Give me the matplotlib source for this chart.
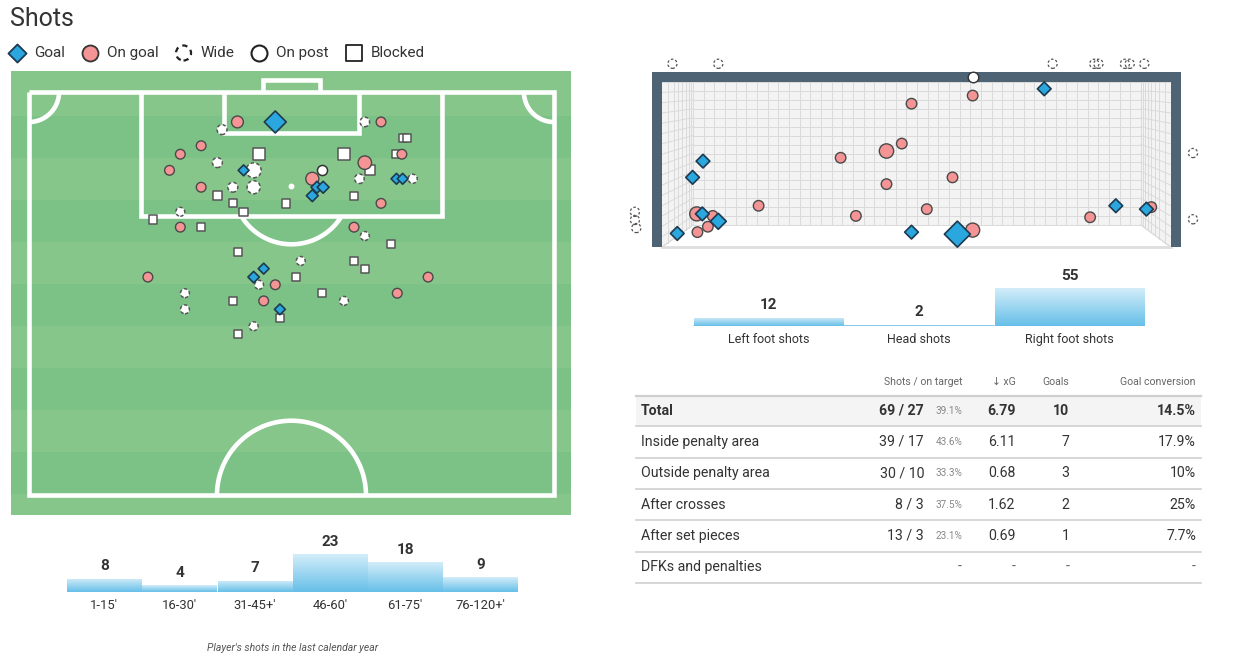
import numpy as np
import matplotlib
matplotlib.use("Agg")
import matplotlib.pyplot as plt
from matplotlib.patches import Rectangle, Polygon
from matplotlib.colors import LinearSegmentedColormap

plt.rcParams["font.family"] = ["Roboto", "DejaVu Sans"]

# ====================== DATA ======================
# Shot map: x = metres across the pitch (0 = left touchline), y = metres from the goal line
goal_x = [31.9, 27.8, 37.3, 38.1, 36.7, 47.6, 48.4, 30.4, 29.1, 32.5]
goal_y = [3.9, 10.2, 12.4, 12.4, 13.5, 11.3, 11.3, 23.0, 24.1, 28.3]
goal_xg = [0.64, 0.03, 0.07, 0.07, 0.07, 0.03, 0.03, 0.03, 0.05, 0.03]

ongoal_x = [27.0, 45.6, 22.3, 19.6, 48.3, 18.2, 43.5, 36.7, 22.3, 45.6, 19.6, 42.1, 15.4, 51.7, 31.9, 47.7, 30.4]
ongoal_y = [3.9, 3.9, 7.0, 8.1, 8.1, 10.2, 9.2, 11.3, 12.4, 14.5, 17.6, 17.6, 24.1, 24.1, 25.1, 26.2, 27.2]
ongoal_xg = [0.2, 0.08, 0.08, 0.08, 0.08, 0.08, 0.31, 0.28, 0.08, 0.08, 0.08, 0.08, 0.08, 0.08, 0.08, 0.08, 0.08]

post_x = [38.0]
post_y = [10.2]
post_xg = [0.1]

wide_x = [25.0, 43.5, 24.4, 29.1, 26.4, 29.1, 42.8, 49.7, 19.6, 43.5, 35.2, 29.8, 20.2, 20.2, 40.8, 29.1]
wide_y = [4.9, 3.9, 9.2, 10.2, 12.4, 12.4, 11.3, 11.3, 15.6, 18.75, 22.0, 25.1, 26.2, 28.3, 27.2, 30.5]
wide_xg = [0.09, 0.07, 0.09, 0.42, 0.09, 0.28, 0.07, 0.05, 0.04, 0.04, 0.04, 0.04, 0.04, 0.04, 0.04, 0.04]

blocked_x = [29.8, 40.8, 44.2, 48.4, 49.0, 47.5, 24.4, 26.4, 27.8, 33.3, 42.1, 16.1, 22.3, 46.9, 27.1, 42.1,
             43.5, 34.6, 38.0, 26.4, 32.5, 27.1]
blocked_y = [8.1, 8.1, 10.2, 6.0, 6.0, 8.1, 13.5, 14.5, 15.6, 14.5, 13.5, 16.6, 17.6, 19.8, 20.8, 22.0,
             23.0, 24.1, 26.2, 27.2, 29.4, 31.5]
blocked_xg = [0.27, 0.27, 0.17, 0.05, 0.05, 0.05, 0.08, 0.06, 0.06, 0.08, 0.05, 0.05, 0.05, 0.04, 0.05, 0.05,
              0.05, 0.05, 0.05, 0.05, 0.05, 0.05]

# Goal-mouth view: x = metres from left post, y = metres above the ground
gm_goal_x = [5.50, 0.59, 0.44, 0.58, 0.81, 0.22, 3.59, 4.25, 6.53, 6.97]
gm_goal_y = [2.34, 1.27, 1.03, 0.49, 0.38, 0.20, 0.22, 0.19, 0.61, 0.56]
gm_goal_xg = [0.07, 0.07, 0.07, 0.07, 0.17, 0.07, 0.07, 0.79, 0.07, 0.07]

gm_ongoal_x = [4.47, 3.59, 3.45, 3.23, 2.57, 4.18, 3.23, 1.39, 2.79, 3.81, 6.16, 0.50, 0.73, 0.66, 0.51, 4.47, 7.04]
gm_ongoal_y = [2.24, 2.12, 1.53, 1.42, 1.32, 1.03, 0.93, 0.61, 0.46, 0.56, 0.44, 0.49, 0.46, 0.30, 0.22, 0.25, 0.59]
gm_ongoal_xg = [0.05, 0.05, 0.05, 0.27, 0.05, 0.05, 0.05, 0.05, 0.05, 0.05, 0.05, 0.25, 0.05, 0.05, 0.05, 0.25, 0.05]

gm_post_x = [4.47]
gm_post_y = [2.51]

gm_wide_x = [0.15, 0.81, 5.62, 6.22, 6.28, 6.66, 6.73, 6.94, 7.64, 7.64, -0.39, -0.39, -0.37]
gm_wide_y = [2.71, 2.71, 2.71, 2.71, 2.71, 2.71, 2.71, 2.71, 1.39, 0.41, 0.52, 0.40, 0.28]

# Shots by body part
body_labels = ["Left foot shots", "Head shots", "Right foot shots"]
body_values = [12, 2, 55]

# Shots by match period
period_labels = ["1-15'", "16-30'", "31-45+'", "46-60'", "61-75'", "76-120+'"]
period_values = [8, 4, 7, 23, 18, 9]

# Table
row_labels = ["Total", "Inside penalty area", "Outside penalty area", "After crosses",
              "After set pieces", "DFKs and penalties"]
row_shots = [69, 39, 30, 8, 13, None]
row_on_target = [27, 17, 10, 3, 3, None]
row_xg = [6.79, 6.11, 0.68, 1.62, 0.69, None]
row_goals = [10, 7, 3, 2, 1, None]
col_headers = ["Shots / on target", "\u2193 xG", "Goals", "Goal conversion"]

# ====================== STYLE ======================
W, H = 1250, 670
TXT = "#333333"
BLUE = "#2aa7df"
BLUE_EDGE = "#1d3a4f"
PINK = "#f49494"
PINK_EDGE = "#4a4a4a"
LIGHT_GREEN = "#86c68a"
DARK_GREEN = "#7cc287"
FRAME = "#4e6373"

fig = plt.figure(figsize=(W / 100, H / 100), dpi=100)


def px_axes(x0, y0, x1, y1):
    return fig.add_axes([x0 / W, 1 - y1 / H, (x1 - x0) / W, (y1 - y0) / H])


def pt2(area_px, shape):
    f = 4 / np.pi if shape == "o" else 1.0
    return np.asarray(area_px, dtype=float) * (72 / 100) ** 2 * f


def fmt_pct(v):
    s = f"{v:.1f}"
    if s.endswith(".0"):
        s = s[:-2]
    return s + "%"


# ---------- overlay (texts, table) ----------
ov = fig.add_axes([0, 0, 1, 1])
ov.set_xlim(0, W)
ov.set_ylim(H, 0)
ov.axis("off")

ov.text(10, 19, "Shots", fontsize=18, color=TXT, va="center", ha="left")

handles = [
    ov.scatter([], [], marker="D", s=85, facecolor=BLUE, edgecolor=BLUE_EDGE, linewidth=1.3),
    ov.scatter([], [], marker="o", s=132, facecolor=PINK, edgecolor="#333", linewidth=1.3),
    ov.scatter([], [], marker="o", s=117, facecolor="white", edgecolor="#222", linewidth=1.6,
               linestyle=(0, (2.4, 2.0))),
    ov.scatter([], [], marker="o", s=132, facecolor="white", edgecolor="#222", linewidth=1.5),
    ov.scatter([], [], marker="s", s=117, facecolor="white", edgecolor="#222", linewidth=1.3),
]
fig.legend(handles, ["Goal", "On goal", "Wide", "On post", "Blocked"], loc="center left",
           bbox_to_anchor=(6.3 / W, 1 - 53 / H), ncol=5, frameon=False, fontsize=11,
           handlelength=1.4, handletextpad=0.4, columnspacing=0.95, borderpad=0,
           borderaxespad=0, scatterpoints=1, labelcolor=TXT)
for h in handles:
    h.remove()

# ---------- table ----------
tx0, tx1 = 636, 1201
label_x = 641
shots_r, pct_r, xg_r, goals_r, conv_r = 924, 962, 1015.5, 1069.5, 1196
head_y = 382
ov.text(pct_r, head_y, col_headers[0], ha="right", va="center", fontsize=7.6, color="#666")
ov.text(xg_r, head_y, col_headers[1], ha="right", va="center", fontsize=7.6, color="#666")
ov.text(goals_r, head_y, col_headers[2], ha="right", va="center", fontsize=7.6, color="#666")
ov.text(conv_r, head_y, col_headers[3], ha="right", va="center", fontsize=7.6, color="#666")

line_y = [395.7, 426, 457.5, 489, 520.3, 551.5, 582.5]
ov.add_patch(Rectangle((tx0, line_y[0]), tx1 - tx0, line_y[1] - line_y[0], facecolor="#f4f4f4",
                       edgecolor="none", zorder=0))
for i, ly in enumerate(line_y):
    ov.plot([tx0, tx1], [ly, ly], color="#cfcfcf", lw=1.6 if i == 0 else 1.2, zorder=1)

FS = 10.2
for i, lab in enumerate(row_labels):
    cy = (line_y[i] + line_y[i + 1]) / 2
    wt = "bold" if i == 0 else "normal"
    ov.text(label_x, cy, lab, ha="left", va="center", fontsize=FS, color=TXT, fontweight=wt)
    if row_shots[i] is None:
        for xr in (pct_r, xg_r, goals_r, conv_r):
            ov.text(xr, cy, "-", ha="right", va="center", fontsize=FS, color="#666")
        continue
    ov.text(shots_r, cy, f"{row_shots[i]} / {row_on_target[i]}", ha="right", va="center",
            fontsize=FS, color=TXT, fontweight=wt)
    ov.text(pct_r, cy, fmt_pct(100 * row_on_target[i] / row_shots[i]), ha="right", va="center",
            fontsize=7.2, color="#888")
    ov.text(xg_r, cy, f"{row_xg[i]:.2f}", ha="right", va="center", fontsize=FS, color=TXT,
            fontweight=wt)
    ov.text(goals_r, cy, f"{row_goals[i]}", ha="right", va="center", fontsize=FS, color=TXT,
            fontweight=wt)
    ov.text(conv_r, cy, fmt_pct(100 * row_goals[i] / row_shots[i]), ha="right", va="center",
            fontsize=FS, color=TXT, fontweight=wt)

ov.text(293, 648, "Player's shots in the last calendar year", ha="center", va="center",
        fontsize=7.5, style="italic", color="#555")

# ---------- pitch ----------
SX, SY = 7.72, 7.68  # reference px per metre
pa = px_axes(11, 71, 571, 515)
pa.set_xlim(-18 / SX, 542 / SX)
pa.set_ylim(423 / SY, -21 / SY)
pa.axis("off")

ylo, yhi = 423 / SY, -21 / SY
b0, bstep = 24 / SY, 42 / SY
pa.axhspan(yhi, b0, color=LIGHT_GREEN, lw=0, zorder=0)
k = 0
while b0 + k * bstep < ylo:
    pa.axhspan(b0 + k * bstep, min(b0 + (k + 1) * bstep, ylo),
               color=DARK_GREEN if k % 2 == 0 else LIGHT_GREEN, lw=0, zorder=0)
    k += 1

LW = 3.3
lk = dict(color="white", lw=LW, zorder=1, solid_capstyle="butt", solid_joinstyle="miter")
pa.plot([0, 68, 68, 0, 0], [0, 0, 52.5, 52.5, 0], **lk)
pa.plot([14.5, 14.5, 53.5, 53.5], [0, 16.2, 16.2, 0], **lk)
pa.plot([25.3, 25.3, 42.7, 42.7], [0, 5.35, 5.35, 0], **lk)
pa.plot([30.3, 30.3, 37.7, 37.7], [0, -1.62, -1.62, 0], **lk)
t = np.radians(np.linspace(32.5, 147.5, 80))
pa.plot(34 + 7.59 * np.cos(t), 12.2 + 7.63 * np.sin(t), **lk)
t = np.radians(np.linspace(180, 360, 120))
pa.plot(34 + 9.65 * np.cos(t), 52.5 + 9.7 * np.sin(t), **lk)
t = np.radians(np.linspace(0, 90, 40))
pa.plot(3.89 * np.cos(t), 3.91 * np.sin(t), **lk)
pa.plot(68 - 3.89 * np.cos(t), 3.91 * np.sin(t), **lk)
pa.plot([34], [12.2], marker="o", ms=3.2, color="white", zorder=1)


def pitch_area(xg):
    return 50 + 300 * np.asarray(xg)


pa.scatter(blocked_x, blocked_y, s=pt2(pitch_area(blocked_xg), "s"), marker="s", facecolor="white",
           edgecolor="#555", linewidth=1.1, zorder=4)
pa.scatter(wide_x, wide_y, s=pt2(pitch_area(wide_xg), "o"), marker="o", facecolor="white",
           edgecolor="#555", linewidth=1.1, linestyle=(0, (2.2, 1.6)), zorder=5)
pa.scatter(post_x, post_y, s=pt2(pitch_area(post_xg), "o"), marker="o", facecolor="white",
           edgecolor="#333", linewidth=1.1, zorder=6)
pa.scatter(ongoal_x, ongoal_y, s=pt2(pitch_area(ongoal_xg), "o"), marker="o", facecolor=PINK,
           edgecolor=PINK_EDGE, linewidth=1.0, zorder=7)
pa.scatter(goal_x, goal_y, s=pt2(pitch_area(goal_xg), "D"), marker="D", facecolor=BLUE,
           edgecolor=BLUE_EDGE, linewidth=1.2, zorder=8)

# ---------- goal mouth view ----------
GX, GY = 69.5, 67.6
ga = px_axes(620, 55, 1210, 255)
ga.set_xlim((620 - 662) / GX, (1210 - 662) / GX)
ga.set_ylim((247 - 255) / GY, (247 - 55) / GY)
ga.axis("off")

GW, GH = 7.32, 2.44
bx0, bx1, by0 = 0.446, 6.89, 0.325
NETC = "#f3f3f3"
GRIDC = "#dadada"
ga.add_patch(Rectangle((bx0, by0), bx1 - bx0, GH - by0, facecolor=NETC, edgecolor="none", zorder=0))
ga.add_patch(Polygon([(0, 0), (0, GH), (bx0, GH), (bx0, by0)], closed=True, facecolor=NETC,
                     edgecolor="none", zorder=0))
ga.add_patch(Polygon([(GW, 0), (GW, GH), (bx1, GH), (bx1, by0)], closed=True, facecolor=NETC,
                     edgecolor="none", zorder=0))
gk = dict(color=GRIDC, lw=0.7, zorder=1)
for gx in np.linspace(bx0, bx1, 43):
    ga.plot([gx, gx], [by0, GH], **gk)
hys = np.linspace(by0, GH, 17)
for gy in hys:
    ga.plot([bx0, bx1], [gy, gy], **gk)
    yf = GH - (GH - gy) * GH / (GH - by0)
    ga.plot([0, bx0], [yf, gy], **gk)
    ga.plot([GW, bx1], [yf, gy], **gk)
for f in [0.2, 0.38, 0.53, 0.66, 0.77, 0.86, 0.94]:
    xl = f * bx0
    ga.plot([xl, xl], [by0 * f, GH], **gk)
    xr = GW - f * (GW - bx1)
    ga.plot([xr, xr], [by0 * f, GH], **gk)
ga.plot([0, bx0], [0, by0], **gk)
ga.plot([GW, bx1], [0, by0], **gk)
ga.plot([0, GW], [0, 0], color="#dedede", lw=2, zorder=1)
pw, bh = 10 / GX, 10 / GY
ga.add_patch(Rectangle((-pw, 0), pw, GH + bh, facecolor=FRAME, edgecolor="none", zorder=2))
ga.add_patch(Rectangle((GW, 0), pw, GH + bh, facecolor=FRAME, edgecolor="none", zorder=2))
ga.add_patch(Rectangle((-pw, GH), GW + 2 * pw, bh, facecolor=FRAME, edgecolor="none", zorder=2))


def goal_area(xg):
    return 70 + 340 * np.asarray(xg)


ga.scatter(gm_wide_x, gm_wide_y, s=pt2(np.full(len(gm_wide_x), 66.0), "o"), marker="o",
           facecolor="none", edgecolor="#555", linewidth=0.9, linestyle=(0, (2.0, 1.6)),
           zorder=3, clip_on=False)
ga.scatter(gm_post_x, gm_post_y, s=pt2(goal_area([0.05]), "o"), marker="o", facecolor="white",
           edgecolor="#333", linewidth=1.0, zorder=4, clip_on=False)
ga.scatter(gm_ongoal_x, gm_ongoal_y, s=pt2(goal_area(gm_ongoal_xg), "o"), marker="o", facecolor=PINK,
           edgecolor=PINK_EDGE, linewidth=1.0, zorder=5, clip_on=False)
ga.scatter(gm_goal_x, gm_goal_y, s=pt2(goal_area(gm_goal_xg), "D"), marker="D", facecolor=BLUE,
           edgecolor=BLUE_EDGE, linewidth=1.2, zorder=6, clip_on=False)

# ---------- gradient bar helper ----------
grad_cmap = LinearSegmentedColormap.from_list("barg", ["#66bfe8", "#d3edf9"])
grad = np.linspace(0, 1, 128).reshape(-1, 1)


def gradient_bars(ax, values, labels, label_off, num_off, label_fs):
    xs = np.arange(len(values))
    bars = ax.bar(xs, values, width=0.99, color="none", edgecolor="none")
    for b in bars:
        x0 = b.get_x()
        im = ax.imshow(grad, cmap=grad_cmap, origin="lower", aspect="auto", zorder=1,
                       extent=(x0, x0 + b.get_width(), 0, b.get_height()))
        im.set_clip_path(b)
    ax.axhline(0, color="#d6d6d6", lw=2, zorder=0)
    for i, v in enumerate(values):
        ax.annotate(str(v), (i, v), xytext=(0, num_off), textcoords="offset points",
                    ha="center", va="center", fontsize=11, fontweight="bold", color=TXT,
                    annotation_clip=False)
        ax.annotate(labels[i], (i, 0), xytext=(0, -label_off), textcoords="offset points",
                    ha="center", va="center", fontsize=label_fs, color=TXT, annotation_clip=False)
    ax.set_xlim(-0.5, len(values) - 0.5)
    ax.axis("off")


# period bars: baseline at y=592, 1.64 px per shot
tb = px_axes(66.7, 530, 518, 592)
gradient_bars(tb, period_values, period_labels, 9.4, 9.0, 9.4)
tb.set_ylim(0, 62 / 1.64)

# body part bars: baseline at y=326, 0.69 px per shot
fb = px_axes(693, 280, 1145, 326)
gradient_bars(fb, body_values, body_labels, 9.4, 8.8, 9)
fb.set_ylim(0, 46 / 0.69)

fig.savefig("out.png", dpi=100, facecolor="white")
